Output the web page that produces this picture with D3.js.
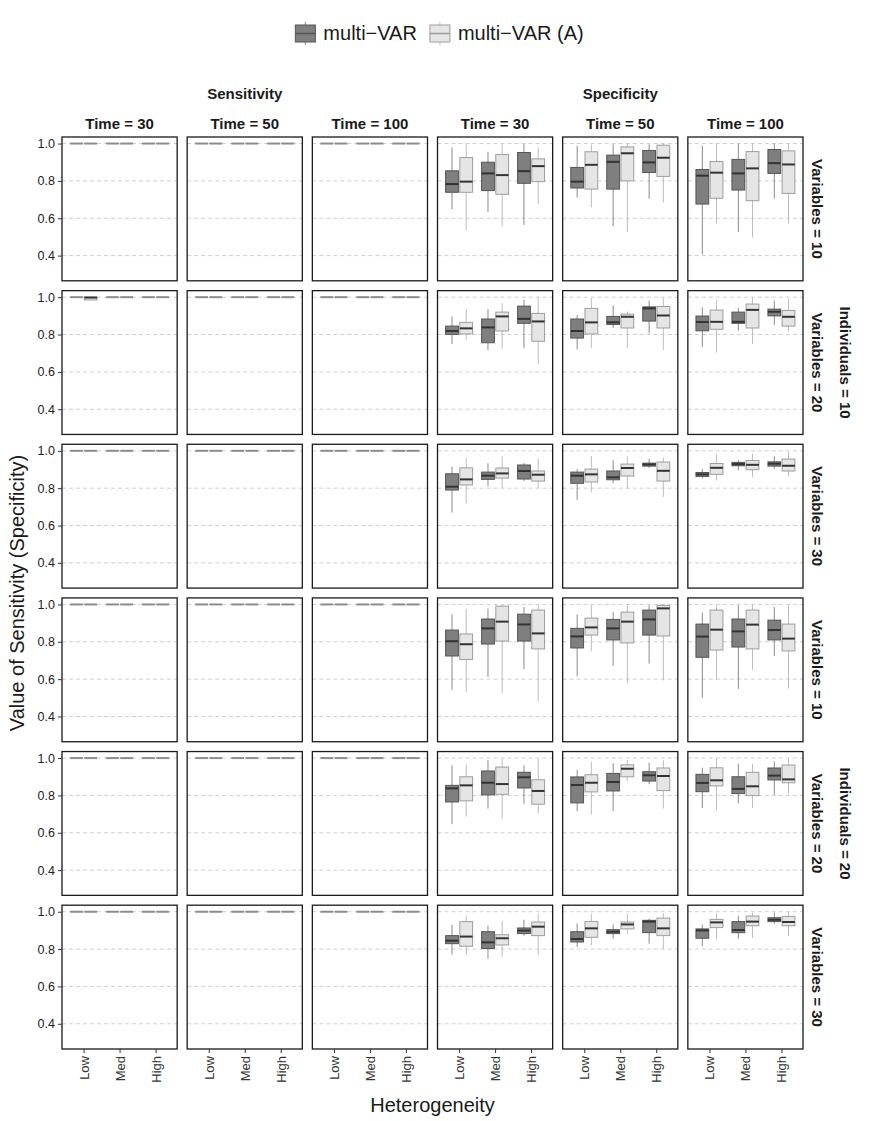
<!DOCTYPE html>
<html>
<head>
<meta charset="utf-8">
<script src="https://cdn.jsdelivr.net/npm/d3@7"></script>
<style>
  body { margin: 0; background: #fff; }
  text { font-family: "Liberation Sans", Arial, Helvetica, sans-serif; }
</style>
</head>
<body>
<script>
const width = 872
const height = 1121

// facet levels
const measures = ['Sensitivity', 'Specificity']
const times = [30, 50, 100]
const individuals = [10, 20]
const variables = [10, 20, 30]
const heterogeneity = ['Low', 'Med', 'High']
const methods = ['multi\u2212VAR', 'multi\u2212VAR (A)']
const yTicks = [0.4, 0.6, 0.8, 1.0]

// each box: [lower whisker, q1, median, q3, upper whisker]
// order in a panel: Low/multi-VAR, Low/(A), Med/multi-VAR, Med/(A), High/multi-VAR, High/(A)
const ONE = [1, 1, 1, 1, 1]
const sensI10V10 = [[ONE, ONE, ONE, ONE, ONE, ONE], [ONE, ONE, ONE, ONE, ONE, ONE], [ONE, ONE, ONE, ONE, ONE, ONE]]
const sensI10V20 = [[ONE, [0.985, 0.985, 0.998, 1, 1], ONE, ONE, ONE, ONE], [ONE, ONE, ONE, ONE, ONE, ONE], [ONE, ONE, ONE, ONE, ONE, ONE]]
const sensI10V30 = [[ONE, ONE, ONE, ONE, ONE, ONE], [ONE, ONE, ONE, ONE, ONE, ONE], [ONE, ONE, ONE, ONE, ONE, ONE]]
const sensI20V10 = [[ONE, ONE, ONE, ONE, ONE, ONE], [ONE, ONE, ONE, ONE, ONE, ONE], [ONE, ONE, ONE, ONE, ONE, ONE]]
const sensI20V20 = [[ONE, ONE, ONE, ONE, ONE, ONE], [ONE, ONE, ONE, ONE, ONE, ONE], [ONE, ONE, ONE, ONE, ONE, ONE]]
const sensI20V30 = [[ONE, ONE, ONE, ONE, ONE, ONE], [ONE, ONE, ONE, ONE, ONE, ONE], [ONE, ONE, ONE, ONE, ONE, ONE]]

const specI10V10 = [
  [[0.648,0.739,0.783,0.854,0.979],[0.534,0.739,0.796,0.925,0.996],[0.634,0.748,0.840,0.900,0.956],[0.556,0.728,0.831,0.941,0.996],[0.563,0.787,0.852,0.952,0.996],[0.676,0.796,0.879,0.918,0.979]],
  [[0.710,0.762,0.796,0.872,0.988],[0.659,0.756,0.886,0.956,0.996],[0.557,0.756,0.902,0.938,0.996],[0.527,0.800,0.948,0.982,1.0],[0.705,0.845,0.899,0.963,0.996],[0.685,0.824,0.924,0.991,1.0]],
  [[0.406,0.676,0.828,0.861,0.988],[0.573,0.707,0.844,0.904,1.0],[0.527,0.751,0.840,0.915,1.0],[0.497,0.694,0.867,0.957,1.0],[0.705,0.840,0.895,0.968,1.0],[0.572,0.733,0.888,0.961,1.0]]
]
const specI10V20 = [
  [[0.749,0.801,0.819,0.845,0.897],[0.772,0.803,0.833,0.865,0.936],[0.716,0.756,0.838,0.883,0.936],[0.723,0.819,0.897,0.920,0.968],[0.726,0.860,0.884,0.952,0.986],[0.643,0.764,0.870,0.913,1.0]],
  [[0.721,0.781,0.819,0.883,0.904],[0.728,0.803,0.865,0.940,0.996],[0.835,0.854,0.865,0.897,0.956],[0.728,0.835,0.895,0.909,0.924],[0.806,0.872,0.940,0.948,0.982],[0.716,0.835,0.902,0.950,0.996]],
  [[0.733,0.820,0.867,0.899,0.945],[0.703,0.828,0.868,0.931,0.986],[0.820,0.860,0.868,0.920,0.943],[0.749,0.835,0.932,0.963,1.0],[0.852,0.900,0.922,0.936,0.982],[0.817,0.845,0.895,0.929,0.991]]
]
const specI10V30 = [
  [[0.669,0.790,0.808,0.877,0.916],[0.719,0.817,0.847,0.909,0.963],[0.810,0.847,0.867,0.886,0.934],[0.801,0.854,0.879,0.908,0.970],[0.838,0.849,0.892,0.924,0.934],[0.801,0.838,0.872,0.892,0.957]],
  [[0.737,0.826,0.867,0.886,0.902],[0.778,0.833,0.874,0.902,0.972],[0.826,0.845,0.858,0.892,0.950],[0.797,0.865,0.908,0.929,0.970],[0.908,0.918,0.927,0.934,0.957],[0.753,0.838,0.893,0.940,0.963]],
  [[0.852,0.863,0.874,0.884,0.902],[0.842,0.874,0.909,0.932,0.984],[0.895,0.920,0.929,0.938,0.950],[0.858,0.899,0.925,0.948,0.986],[0.902,0.918,0.931,0.941,0.970],[0.863,0.892,0.920,0.956,0.995]]
]
const specI20V10 = [
  [[0.543,0.724,0.803,0.863,0.947],[0.532,0.705,0.787,0.842,0.977],[0.611,0.788,0.872,0.922,0.977],[0.527,0.804,0.908,0.991,0.996],[0.653,0.804,0.893,0.948,0.986],[0.481,0.762,0.845,0.970,0.996]],
  [[0.616,0.767,0.829,0.872,0.947],[0.749,0.836,0.877,0.927,0.996],[0.671,0.810,0.872,0.920,0.959],[0.577,0.794,0.908,0.959,0.996],[0.684,0.836,0.920,0.970,0.996],[0.593,0.831,0.979,0.995,0.996]],
  [[0.500,0.717,0.828,0.895,0.957],[0.595,0.756,0.865,0.970,0.996],[0.548,0.772,0.856,0.922,0.996],[0.650,0.762,0.892,0.970,0.996],[0.724,0.810,0.863,0.916,0.986],[0.550,0.751,0.817,0.895,0.996]]
]
const specI20V20 = [
  [[0.646,0.765,0.838,0.854,0.961],[0.687,0.771,0.854,0.900,0.966],[0.730,0.803,0.868,0.931,0.989],[0.676,0.806,0.861,0.952,0.998],[0.755,0.840,0.897,0.924,0.961],[0.705,0.753,0.824,0.884,0.995]],
  [[0.716,0.760,0.856,0.899,0.936],[0.698,0.819,0.868,0.911,0.980],[0.716,0.824,0.872,0.918,0.972],[0.876,0.900,0.943,0.964,0.989],[0.860,0.877,0.908,0.927,0.975],[0.730,0.826,0.904,0.947,0.989]],
  [[0.733,0.820,0.867,0.913,0.948],[0.719,0.851,0.881,0.948,0.996],[0.758,0.810,0.835,0.900,0.970],[0.733,0.799,0.849,0.924,0.968],[0.804,0.883,0.906,0.947,0.982],[0.810,0.868,0.886,0.963,0.996]]
]
const specI20V30 = [
  [[0.771,0.829,0.845,0.872,0.931],[0.769,0.815,0.867,0.947,0.979],[0.748,0.803,0.836,0.893,0.925],[0.758,0.822,0.858,0.877,0.950],[0.872,0.883,0.899,0.913,0.957],[0.769,0.872,0.920,0.945,0.989]],
  [[0.812,0.838,0.854,0.893,0.938],[0.819,0.863,0.911,0.948,0.989],[0.856,0.883,0.893,0.904,0.932],[0.881,0.908,0.932,0.945,0.991],[0.829,0.888,0.947,0.954,0.963],[0.799,0.872,0.911,0.966,0.991]],
  [[0.815,0.858,0.900,0.908,0.932],[0.852,0.915,0.943,0.959,0.991],[0.856,0.888,0.902,0.947,0.979],[0.861,0.925,0.947,0.977,0.995],[0.936,0.947,0.957,0.968,0.995],[0.870,0.925,0.945,0.975,0.998]]
]

// rows of the grid, top to bottom
const sensRows = [sensI10V10, sensI10V20, sensI10V30, sensI20V10, sensI20V20, sensI20V30]
const specRows = [specI10V10, specI10V20, specI10V30, specI20V10, specI20V20, specI20V30]

const fills = ['#7f7f7f', '#e5e5e5']
const strokes = ['#555555', '#9d9d9d']
const whiskerCols = ['#8a8a8a', '#bdbdbd']

const svg = d3.select('body').append('svg')
  .attr('width', width)
  .attr('height', height)

const colKeys = d3.cross(measures, times).map(d => d.join('-'))
const rowKeys = d3.cross(individuals, variables).map(d => d.join('-'))

const colScale = d3.scaleBand().domain(colKeys).range([62, 803]).paddingInner(0.08)
const rowScale = d3.scaleBand().domain(rowKeys).range([137, 1049]).paddingInner(0.064)
const pw = colScale.bandwidth()
const ph = rowScale.bandwidth()

const y = d3.scaleLinear().domain([0.265, 1.035]).range([ph, 0])
const x = d3.scalePoint().domain(heterogeneity).range([0, pw]).padding(0.6)
const dodge = d3.scaleBand().domain(methods)
  .range([-0.375 * x.step(), 0.375 * x.step()]).paddingInner(0.1)

const panels = []
rowKeys.forEach((rk, r) => {
  colKeys.forEach((ck, c) => {
    const m = Math.floor(c / 3)
    const t = c % 3
    const boxes = (m === 0 ? sensRows : specRows)[r][t]
    panels.push({rk, ck, r, c, boxes})
  })
})

const panel = svg.selectAll('g.panel')
  .data(panels)
  .enter().append('g')
  .classed('panel', true)
  .attr('transform', d => `translate(${colScale(d.ck)},${rowScale(d.rk)})`)

// dashed grid
panel.selectAll('line.grid')
  .data(yTicks)
  .enter().append('line')
  .classed('grid', true)
  .attr('x1', 0).attr('x2', pw)
  .attr('y1', d => y(d)).attr('y2', d => y(d))
  .attr('stroke', '#cfcfcf')
  .attr('stroke-dasharray', '4,3')

// boxes
const box = panel.selectAll('g.box')
  .data(d => d.boxes.map((b, i) => ({
    b, het: heterogeneity[Math.floor(i / 2)], k: i % 2
  })))
  .enter().append('g')
  .classed('box', true)
  .attr('transform', d => `translate(${x(d.het) + dodge(methods[d.k]) + dodge.bandwidth() / 2},0)`)

const bw = dodge.bandwidth()
const flat = d => d.b[3] - d.b[1] < 1e-9

box.append('line')
  .attr('x1', 0).attr('x2', 0)
  .attr('y1', d => y(d.b[0])).attr('y2', d => y(d.b[4]))
  .attr('stroke', d => whiskerCols[d.k])
  .attr('stroke-width', 1)

box.append('rect')
  .attr('x', -bw / 2)
  .attr('width', bw)
  .attr('y', d => y(d.b[3]))
  .attr('height', d => y(d.b[1]) - y(d.b[3]))
  .attr('fill', d => fills[d.k])
  .attr('stroke', d => strokes[d.k])
  .attr('stroke-width', 1)

box.append('line')
  .attr('x1', -bw / 2).attr('x2', bw / 2)
  .attr('y1', d => y(d.b[2])).attr('y2', d => y(d.b[2]))
  .attr('stroke', d => flat(d) ? '#8c8c8c' : '#333')
  .attr('stroke-width', d => flat(d) ? 2 : 2)

// panel border
panel.append('rect')
  .attr('width', pw).attr('height', ph)
  .attr('fill', 'none')
  .attr('stroke', '#1a1a1a')
  .attr('stroke-width', 1.3)

// y axes on first column
const firstCol = panel.filter(d => d.c === 0)
firstCol.each(function () {
  const ax = d3.select(this).append('g')
    .call(d3.axisLeft(y).tickValues(yTicks).tickFormat(d3.format('.1f')).tickSize(4).tickPadding(3))
  ax.select('.domain').remove()
  ax.selectAll('line').attr('stroke', '#333')
  ax.selectAll('text').attr('font-size', 12.5).attr('fill', '#222')
    .style('font-family', '"Liberation Sans", Arial, sans-serif')
})

// x axes on bottom row
const lastRow = panel.filter(d => d.r === rowKeys.length - 1)
lastRow.each(function () {
  const ax = d3.select(this).append('g')
    .attr('transform', `translate(0,${ph})`)
    .call(d3.axisBottom(x).tickSize(4).tickPadding(3))
  ax.select('.domain').remove()
  ax.selectAll('line').attr('stroke', '#333')
  ax.selectAll('text')
    .attr('font-size', 13)
    .attr('fill', '#333')
    .style('font-family', '"Liberation Sans", Arial, sans-serif')
    .attr('transform', 'rotate(-90)')
    .attr('text-anchor', 'end')
    .attr('x', -7).attr('y', 0).attr('dy', '0.35em')
})

// column strips
svg.selectAll('text.colstrip')
  .data(colKeys)
  .enter().append('text')
  .attr('x', d => colScale(d) + pw / 2)
  .attr('y', 129)
  .attr('text-anchor', 'middle')
  .attr('font-weight', 'bold')
  .attr('font-size', 15)
  .attr('fill', '#1a1a1a')
  .text(d => `Time = ${d.split('-')[1]}`)

svg.selectAll('text.measure')
  .data(measures)
  .enter().append('text')
  .attr('x', m => {
    const ks = colKeys.filter(k => k.startsWith(m))
    return (colScale(ks[0]) + colScale(ks[ks.length - 1]) + pw) / 2
  })
  .attr('y', 99)
  .attr('text-anchor', 'middle')
  .attr('font-weight', 'bold')
  .attr('font-size', 15)
  .attr('fill', '#1a1a1a')
  .text(d => d)

// row strips
svg.selectAll('text.rowstrip')
  .data(rowKeys)
  .enter().append('text')
  .attr('transform', d => `translate(817,${rowScale(d) + ph / 2}) rotate(90)`)
  .attr('text-anchor', 'middle')
  .attr('dy', '0.35em')
  .attr('font-weight', 'bold')
  .attr('font-size', 15)
  .attr('fill', '#1a1a1a')
  .text(d => `Variables = ${d.split('-')[1]}`)

svg.selectAll('text.indiv')
  .data(individuals)
  .enter().append('text')
  .attr('transform', v => {
    const ks = rowKeys.filter(k => k.startsWith(v + '-'))
    const cy = (rowScale(ks[0]) + rowScale(ks[ks.length - 1]) + ph) / 2
    return `translate(845,${cy}) rotate(90)`
  })
  .attr('text-anchor', 'middle')
  .attr('dy', '0.35em')
  .attr('font-weight', 'bold')
  .attr('font-size', 15)
  .attr('fill', '#1a1a1a')
  .text(d => `Individuals = ${d}`)

// axis titles
svg.append('text')
  .attr('x', (62 + 803) / 2)
  .attr('y', 1112)
  .attr('text-anchor', 'middle')
  .attr('font-size', 20)
  .attr('fill', '#1a1a1a')
  .text('Heterogeneity')

svg.append('text')
  .attr('transform', `translate(24,${(137 + 1049) / 2}) rotate(-90)`)
  .attr('text-anchor', 'middle')
  .attr('font-size', 20)
  .attr('fill', '#1a1a1a')
  .text('Value of Sensitivity (Specificity)')

// legend
const legend = svg.append('g')
const items = legend.selectAll('g.item')
  .data(methods)
  .enter().append('g')
  .classed('item', true)

items.append('line')
  .attr('x1', 11).attr('x2', 11).attr('y1', 22).attr('y2', 45)
  .attr('stroke', (d, i) => whiskerCols[i])
items.append('rect')
  .attr('x', 1).attr('y', 25).attr('width', 20).attr('height', 17)
  .attr('fill', (d, i) => fills[i])
  .attr('stroke', (d, i) => strokes[i])
items.append('line')
  .attr('x1', 1).attr('x2', 21).attr('y1', 33.5).attr('y2', 33.5)
  .attr('stroke', (d, i) => i === 0 ? '#555' : '#999')
  .attr('stroke-width', 1.5)
items.append('text')
  .attr('x', 29).attr('y', 40)
  .attr('font-size', 20)
  .attr('fill', '#1a1a1a')
  .text(d => d)

let offset = 0
items.each(function () {
  const g = d3.select(this)
  g.attr('transform', `translate(${offset},0)`)
  offset += 29 + g.select('text').node().getComputedTextLength() + 12
})
legend.attr('transform', `translate(${439 - (offset - 12) / 2},0)`)
</script>
</body>
</html>
